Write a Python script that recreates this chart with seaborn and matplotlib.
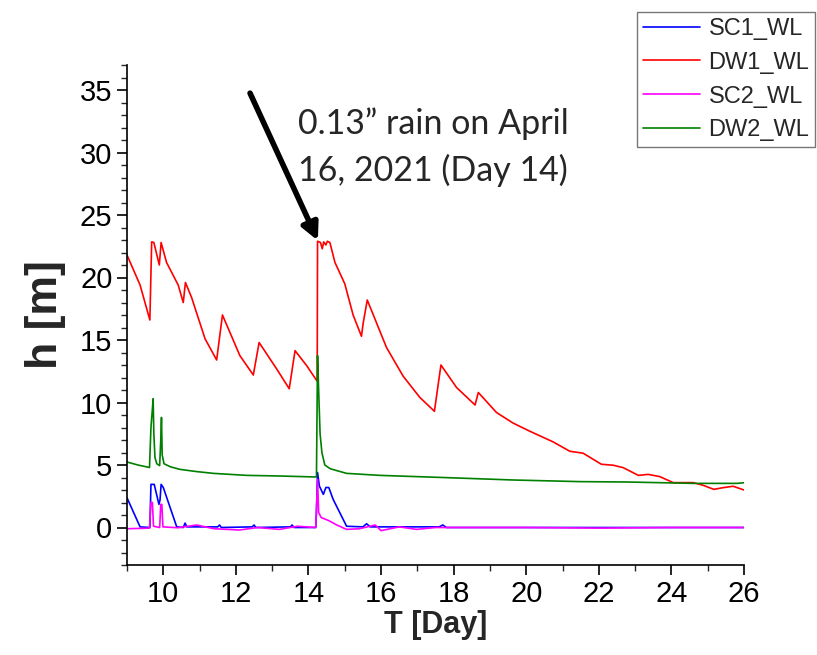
import matplotlib
matplotlib.use("Agg")
import matplotlib.pyplot as plt
from matplotlib.ticker import MultipleLocator
import seaborn as sns
import pandas as pd

# Water level records (time in days, head in metres)
sc1_t = [9.00, 9.36, 9.63, 9.66, 9.75, 9.88, 9.91, 9.94, 10.00, 10.37, 10.55, 10.60, 10.65,
         11.50, 11.55, 11.60, 12.45, 12.50, 12.55, 13.50, 13.55, 13.60, 14.20, 14.22, 14.25,
         14.30, 14.41, 14.48, 14.56, 14.68, 15.05, 15.50, 15.60, 15.70, 17.60, 17.70, 17.80,
         20.00, 22.00, 24.00, 26.00]
sc1_h = [2.38, 0.05, 0.00, 3.45, 3.45, 1.85, 2.20, 3.45, 3.20, 0.05, 0.00, 0.35, 0.05,
         0.05, 0.20, 0.00, 0.05, 0.20, 0.00, 0.05, 0.20, 0.00, 0.00, 1.20, 4.40,
         3.32, 2.65, 3.20, 3.20, 2.25, 0.10, 0.05, 0.30, 0.05, 0.05, 0.20, 0.00,
         0.00, 0.00, 0.00, 0.00]

dw1_t = [9.00, 9.36, 9.63, 9.68, 9.74, 9.89, 9.94, 10.09, 10.41, 10.55, 10.61, 10.78, 11.15,
         11.47, 11.63, 12.11, 12.48, 12.64, 13.12, 13.47, 13.63, 13.95, 14.24, 14.25, 14.33,
         14.38, 14.42, 14.48, 14.52, 14.59, 14.73, 15.00, 15.23, 15.46, 15.51, 15.62, 16.15,
         16.61, 17.07, 17.47, 17.65, 18.08, 18.59, 18.68, 19.18, 19.64, 20.10, 20.74, 21.20,
         21.57, 22.07, 22.40, 22.67, 23.09, 23.36, 23.68, 24.05, 24.60, 24.88, 25.17, 25.43,
         25.70, 26.00]
dw1_h = [21.8, 19.4, 16.6, 22.85, 22.8, 21.0, 22.8, 21.2, 19.4, 18.0, 19.6, 18.4, 15.1,
         13.4, 17.0, 13.75, 12.2, 14.8, 12.7, 11.1, 14.15, 12.95, 11.7, 22.9, 22.8,
         22.3, 22.85, 22.6, 22.9, 22.8, 21.2, 19.5, 17.0, 15.3, 16.4, 18.2, 14.4,
         12.1, 10.4, 9.3, 13.0, 11.2, 9.8, 10.8, 9.2, 8.35, 7.7, 6.85, 6.1,
         5.94, 5.06, 4.98, 4.79, 4.17, 4.25, 4.07, 3.59, 3.59, 3.37, 3.05, 3.19,
         3.30, 3.00]

sc2_t = [9.00, 9.62, 9.66, 9.70, 9.73, 9.90, 9.93, 9.96, 9.99, 10.40, 10.92, 11.40, 12.10,
         12.60, 13.20, 13.70, 14.20, 14.25, 14.28, 14.35, 14.56, 14.78, 15.05, 15.40, 15.84,
         16.00, 16.50, 16.98, 17.50, 20.00, 22.00, 24.00, 26.00]
sc2_h = [-0.10, -0.05, 2.00, 2.00, 0.10, 0.00, 1.85, 1.85, 0.05, -0.02, 0.20, -0.10, -0.20,
         0.00, -0.15, 0.10, 0.00, 3.85, 1.20, 0.80, 0.55, 0.20, -0.15, -0.10, 0.20,
         -0.25, 0.05, -0.15, 0.00, 0.00, -0.05, 0.00, 0.00]

dw2_t = [9.00, 9.30, 9.62, 9.66, 9.70, 9.72, 9.74, 9.77, 9.82, 9.90, 9.93, 9.95, 9.97,
         10.02, 10.20, 10.46, 10.90, 11.38, 12.30, 13.21, 14.22, 14.25, 14.28, 14.32, 14.37,
         14.45, 14.60, 15.05, 15.97, 17.80, 19.64, 21.48, 22.77, 24.60, 25.80, 26.00]
dw2_h = [5.24, 5.00, 4.80, 8.00, 9.50, 10.30, 7.50, 5.60, 5.10, 4.95, 7.00, 8.80, 5.80,
         5.10, 4.85, 4.65, 4.48, 4.33, 4.17, 4.12, 4.04, 13.75, 11.00, 7.50, 6.00,
         5.00, 4.70, 4.33, 4.17, 3.99, 3.80, 3.67, 3.64, 3.53, 3.53, 3.58]

series_names = ["SC1_WL", "DW1_WL", "SC2_WL", "DW2_WL"]
series_colors = ["#0000ff", "#ff0000", "#ff00ff", "#008000"]

frames = []
for name, t, h in zip(series_names,
                      [sc1_t, dw1_t, sc2_t, dw2_t],
                      [sc1_h, dw1_h, sc2_h, dw2_h]):
    frames.append(pd.DataFrame({"T": t, "h": h, "series": name}))
data = pd.concat(frames, ignore_index=True)

sns.set_style("ticks")
plt.rcParams["font.family"] = ["Liberation Sans", "DejaVu Sans"]

fig = plt.figure(figsize=(8.17, 6.55), dpi=100)
ax = fig.add_axes([127 / 817, 1 - 565 / 655, (744 - 127) / 817, (565 - 65) / 655])

sns.lineplot(data=data, x="T", y="h", hue="series", hue_order=series_names,
             palette=dict(zip(series_names, series_colors)), sort=False,
             estimator=None, linewidth=1.2, ax=ax, legend=False)

ax.set_xlim(9, 26)
ax.set_ylim(-3, 37)
ax.xaxis.set_major_locator(MultipleLocator(2))
ax.xaxis.set_minor_locator(MultipleLocator(1))
ax.yaxis.set_major_locator(MultipleLocator(5))
ax.yaxis.set_minor_locator(MultipleLocator(1))
ax.tick_params(which="major", length=7, width=1.2, labelsize=21, direction="out", colors="black")
ax.tick_params(which="minor", length=4, width=1.0, direction="out")
ax.set_xticks(range(10, 27, 2))
for s in ["top", "right"]:
    ax.spines[s].set_visible(False)
for s in ["left", "bottom"]:
    ax.spines[s].set_linewidth(1.2)
    ax.spines[s].set_color("black")

ax.set_xlabel("T [Day]", fontsize=22, fontweight="bold", labelpad=2)
ax.set_ylabel("h [m]", fontsize=32, fontweight="bold", labelpad=10)

# Rain event annotation
ax.annotate("", xy=(14.26, 22.95), xytext=(12.39, 34.75),
            arrowprops=dict(arrowstyle="-|>,head_length=1.0,head_width=0.5",
                            color="black", lw=4, shrinkA=0, shrinkB=0))
ax.text(13.71, 32.3, "0.13\u201d rain on April", fontsize=24.5, family=["Lato", "DejaVu Sans"],
        va="center", ha="left")
ax.text(13.71, 28.6, "16, 2021 (Day 14)", fontsize=24.5, family=["Lato", "DejaVu Sans"],
        va="center", ha="left")

handles = [plt.Line2D([0], [0], color=c, lw=1.2) for c in series_colors]
leg = fig.legend(handles, series_names, loc="upper left",
                 bbox_to_anchor=(637 / 817, 1 - 12 / 655), fontsize=17,
                 frameon=True, fancybox=False, handlelength=2.4, labelspacing=0.5,
                 handletextpad=0.38, borderaxespad=0, borderpad=0.25)
leg.get_frame().set_edgecolor("#555555")
leg.get_frame().set_linewidth(1.0)

fig.savefig("out.png", dpi=100)
